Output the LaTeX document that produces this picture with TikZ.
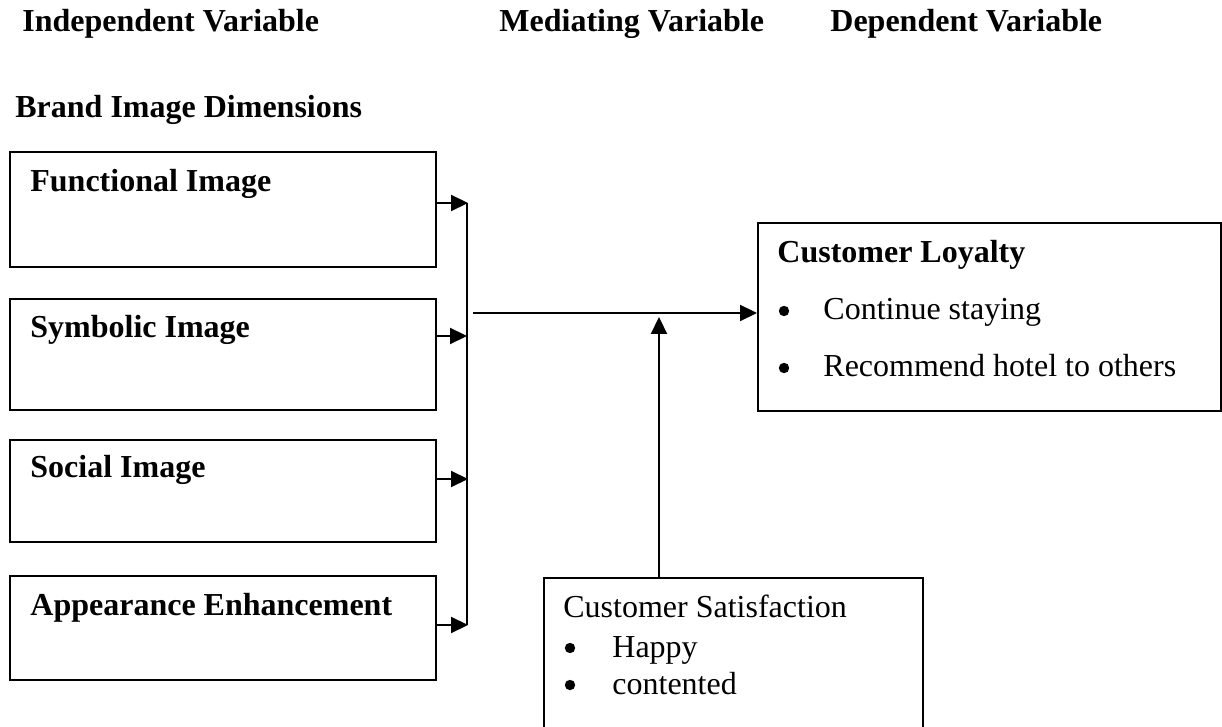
\documentclass[tikz,border=0pt]{standalone}
\usepackage{fontspec}
\setmainfont{Liberation Serif}
\usetikzlibrary{arrows.meta,positioning}

\begin{document}
\begin{tikzpicture}[x=0.5pt,y=-0.5pt,>={Triangle[length=8.5pt,width=8pt]},
    box/.style={draw,line width=0.9pt,rectangle,anchor=north west,inner sep=0pt},
    txt/.style={anchor=base west,inner sep=0pt,font=\fontsize{16}{19}\selectfont},
    head/.style={txt,font=\fontsize{16}{19}\selectfont\bfseries},
    dot/.style={circle,fill,inner sep=0pt,minimum size=5.2pt},
    arr/.style={->,line width=1.1pt}]
\clip (0,0) rectangle (1222,727);

% Column headings
\node[head] (indep) at (22,32) {Independent Variable};
\node[head] (medi) at (499,32) {Mediating Variable};
\node[head] (dep) at (830,32) {Dependent Variable};
\node[head] (brand) at (15,118) {Brand Image Dimensions};

% Brand image boxes
\node[box,minimum width=213pt,minimum height=57.5pt] (func) at (9,151) {};
\node[box,minimum width=213pt,minimum height=55.5pt] (symb) at (9,298) {};
\node[box,minimum width=213pt,minimum height=51pt] (soc) at (9,439) {};
\node[box,minimum width=213pt,minimum height=52pt] (appe) at (9,575) {};
\node[head] (funcT) at (30,192) {Functional Image};
\node[head] (symbT) at (30,338) {Symbolic Image};
\node[head] (socT) at (30,478) {Social Image};
\node[head] (appeT) at (30,615) {Appearance Enhancement};

% Customer loyalty
\node[box,minimum width=231.5pt,minimum height=94pt] (loyal) at (757,222) {};
\node[head] (loyalT) at (777,263) {Customer Loyalty};
\node[dot] (lb1) at (784,311) {};
\node[txt] (l1) at (823,320) {Continue staying};
\node[dot] (lb2) at (784,368) {};
\node[txt] (l2) at (823,377) {Recommend hotel to others};

% Customer satisfaction (runs off the bottom)
\node[box,minimum width=189.5pt,minimum height=81.5pt] (satis) at (543,577) {};
\node[txt] (satisT) at (563,617) {Customer Satisfaction};
\node[dot] (sb1) at (570,648) {};
\node[txt] (s1) at (612,657) {Happy};
\node[dot] (sb2) at (570,685) {};
\node[txt] (s2) at (612,694) {contented};

% Bus on the right of the boxes
\coordinate (b1) at (468,203);
\coordinate (b2) at (467,336);
\coordinate (b3) at (468,479);
\coordinate (b4) at (468,625);
\draw[line width=1pt] (467,203) -- (467,625);
\draw[arr] (func.east |- b1) -- (b1);
\draw[arr] (symb.east |- b2) -- (b2);
\draw[arr] (soc.east |- b3) -- (b3);
\draw[arr] (appe.east |- b4) -- (b4);

% Main path and mediator
\coordinate (m) at (473,313);
\draw[arr] (m) -- (m -| loyal.west);
\coordinate (up) at (659,317);
\draw[arr] (up |- satis.north) -- (up);
\end{tikzpicture}
\end{document}
